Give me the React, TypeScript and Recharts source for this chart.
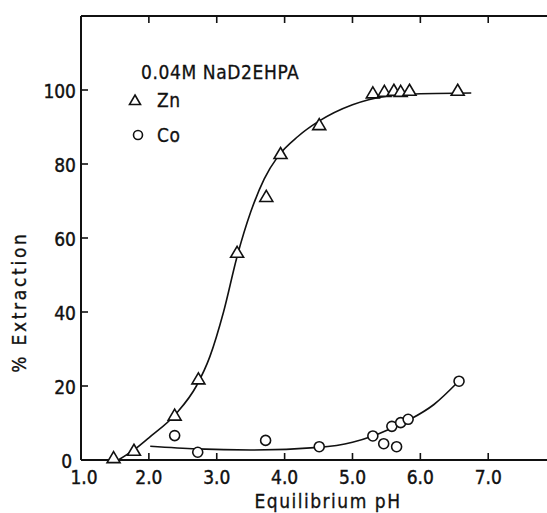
import React from 'react';
import { ComposedChart, Line, Scatter, XAxis, YAxis } from 'recharts';

// measured points
const znPH = [1.48, 1.78, 2.38, 2.73, 3.30, 3.73, 3.94, 4.51, 5.30, 5.47, 5.61, 5.71, 5.84, 6.55];
const znExt = [0.5, 2.5, 12.0, 21.8, 56.0, 71.1, 82.7, 90.5, 99.1, 99.5, 99.8, 99.5, 99.8, 99.8];
const coPH = [2.38, 2.72, 3.72, 4.51, 5.30, 5.46, 5.58, 5.65, 5.71, 5.82, 6.57];
const coExt = [6.6, 2.1, 5.3, 3.6, 6.5, 4.4, 9.1, 3.6, 10.1, 11.0, 21.3];

// hand-drawn fit curves
const znCurvePH = [1.55, 1.8, 2.0, 2.4, 2.7, 2.9, 3.1, 3.3, 3.5, 3.7, 3.9, 4.2, 4.5, 5.0, 5.5, 6.0, 6.75];
const znCurveExt = [0, 3, 6, 12.5, 20, 28, 40, 55, 67, 76, 82, 87.5, 91.5, 96, 98.3, 99, 99.2];
const coCurvePH = [2.02, 2.7, 3.5, 4.5, 5.0, 5.3, 5.6, 5.85, 6.2, 6.55];
const coCurveExt = [3.7, 3.0, 2.7, 3.4, 4.8, 6.5, 8.8, 11, 15, 21];

const xTicks = [1, 2, 3, 4, 5, 6, 7];
const yTicks = [0, 20, 40, 60, 80, 100];

const pair = (xs: number[], ys: number[]) => xs.map((x, i) => ({ x, y: ys[i] }));
const zn = pair(znPH, znExt);
const co = pair(coPH, coExt);
const znFit = pair(znCurvePH, znCurveExt);
const coFit = pair(coCurvePH, coCurveExt);

const W = 547;
const H = 513;
const PLOT_TOP = 16;
const PLOT_BOTTOM = 460;
const PLOT_LEFT = 81;
const TICK_FONT = '"Liberation Sans Narrow", "DejaVu Sans Condensed", sans-serif';
const FONT = '"DejaVu Sans Condensed", "DejaVu Sans", sans-serif';
const INK = '#111';

const Triangle = (props: any) => {
  const { cx, cy } = props;
  if (cx == null || cy == null) return null;
  return (
    <path
      d={`M${cx},${cy - 6.5} L${cx + 6.5},${cy + 4.5} L${cx - 6.5},${cy + 4.5} Z`}
      fill="#fff"
      stroke={INK}
      strokeWidth={1.6}
    />
  );
};

const Circle = (props: any) => {
  const { cx, cy } = props;
  if (cx == null || cy == null) return null;
  return <circle cx={cx} cy={cy} r={5} fill="#fff" stroke={INK} strokeWidth={1.6} />;
};

// bottom labels plus the inward tick marks on both bottom and top frame
const BottomTick = (props: any) => {
  const { x, payload } = props;
  const first = payload.value === 1;
  return (
    <g>
      {!first && <line x1={x} y1={PLOT_BOTTOM} x2={x} y2={PLOT_BOTTOM - 7} stroke={INK} strokeWidth={1.6} />}
      {!first && <line x1={x} y1={PLOT_TOP} x2={x} y2={PLOT_TOP + 7} stroke={INK} strokeWidth={1.6} />}
      <text
        x={x + (first ? 3 : 0)}
        y={477}
        dominantBaseline="central"
        textAnchor="middle"
        fontSize={19}
        fontFamily={TICK_FONT}
        fill={INK}
        stroke={INK}
        strokeWidth={0.4}
      >
        {payload.value.toFixed(1)}
      </text>
    </g>
  );
};

const LeftTick = (props: any) => {
  const { y, payload } = props;
  return (
    <g>
      {payload.value > 0 && <line x1={PLOT_LEFT} y1={y} x2={PLOT_LEFT + 7} y2={y} stroke={INK} strokeWidth={1.6} />}
      <text
        x={payload.value === 0 ? 72 : 76}
        y={y + 1}
        dominantBaseline="central"
        textAnchor="end"
        fontSize={19}
        fontFamily={TICK_FONT}
        fill={INK}
        stroke={INK}
        strokeWidth={0.4}
      >
        {payload.value}
      </text>
    </g>
  );
};

export default function App() {
  return (
    <div style={{ position: 'absolute', left: 0, top: 0, width: W, height: H, background: '#fff' }}>
      <ComposedChart width={W} height={H} margin={{ top: PLOT_TOP - 2, right: 0, bottom: 0, left: 0 }}>
        <XAxis
          type="number"
          dataKey="x"
          domain={[1, 7.866]}
          ticks={xTicks}
          allowDataOverflow
          height={H - PLOT_BOTTOM}
          tickLine={false}
          tickSize={0}
          axisLine={{ stroke: INK, strokeWidth: 2 }}
          tick={<BottomTick />}
          label={{
            content: () => (
              <text
                x={328}
                y={501}
                textAnchor="middle"
                dominantBaseline="central"
                fontSize={19}
                fontFamily={FONT}
                fill={INK}
                stroke={INK}
                strokeWidth={0.3}
                letterSpacing={1.5}
              >
                Equilibrium pH
              </text>
            ),
          }}
        />
        <XAxis
          xAxisId="top"
          orientation="top"
          type="number"
          dataKey="x"
          domain={[1, 7.866]}
          allowDataOverflow
          height={2}
          tickLine={false}
          tick={false}
          axisLine={{ stroke: INK, strokeWidth: 2 }}
        />
        <YAxis
          type="number"
          domain={[0, 120]}
          ticks={yTicks}
          width={PLOT_LEFT}
          tickSize={0}
          tickLine={false}
          axisLine={{ stroke: INK, strokeWidth: 2 }}
          tick={<LeftTick />}
          label={{
            content: () => (
              <text
                x={19}
                y={302}
                transform="rotate(-90 19 302)"
                textAnchor="middle"
                dominantBaseline="central"
                fontSize={19}
                fontFamily={FONT}
                fill={INK}
                stroke={INK}
                strokeWidth={0.3}
                letterSpacing={2.7}
              >
                % Extraction
              </text>
            ),
          }}
        />
        <Line data={znFit} dataKey="y" type="monotone" stroke={INK} strokeWidth={1.6} dot={false} isAnimationActive={false} />
        <Line data={coFit} dataKey="y" type="monotone" stroke={INK} strokeWidth={1.6} dot={false} isAnimationActive={false} />
        <Scatter data={zn} dataKey="y" shape={<Triangle />} isAnimationActive={false} />
        <Scatter data={co} dataKey="y" shape={<Circle />} isAnimationActive={false} />
      </ComposedChart>
      <div
        style={{
          position: 'absolute',
          left: 0,
          top: 0,
          width: W,
          height: H,
          pointerEvents: 'none',
          fontFamily: FONT,
          color: INK,
          WebkitTextStroke: '0.3px #111',
        }}
      >
        <div style={{ position: 'absolute', left: 141, top: 60, fontSize: 19, letterSpacing: 0.6, lineHeight: '24px', whiteSpace: 'nowrap' }}>
          0.04M NaD2EHPA
        </div>
        <svg style={{ position: 'absolute', left: 128, top: 93 }} width={14} height={14}>
          <path d="M7,2 L12.5,11.5 L1.5,11.5 Z" fill="#fff" stroke={INK} strokeWidth={1.6} />
        </svg>
        <div style={{ position: 'absolute', left: 157, top: 88, fontSize: 19, letterSpacing: 0.6, lineHeight: '24px' }}>Zn</div>
        <svg style={{ position: 'absolute', left: 131, top: 128 }} width={14} height={14}>
          <circle cx={7} cy={7} r={4.5} fill="#fff" stroke={INK} strokeWidth={1.6} />
        </svg>
        <div style={{ position: 'absolute', left: 157, top: 123, fontSize: 19, letterSpacing: 0.6, lineHeight: '24px' }}>Co</div>
      </div>
    </div>
  );
}
